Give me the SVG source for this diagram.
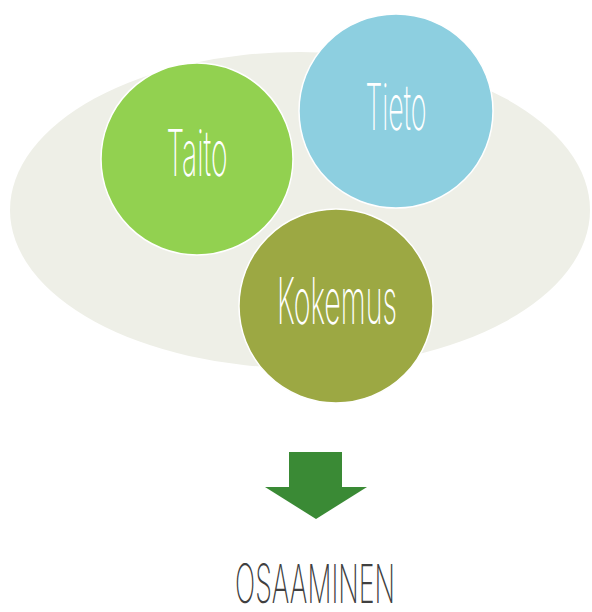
<svg xmlns="http://www.w3.org/2000/svg" width="592" height="612" viewBox="0 0 592 612">
<style>
.circ{stroke:#ffffff;stroke-width:1.5}
.lbl{font-family:Inter,"Open Sans","Liberation Sans",sans-serif;font-weight:200;font-size:64px;fill:#ffffff;text-anchor:middle}
.out{font-family:Inter,"Open Sans","Liberation Sans",sans-serif;font-weight:200;font-size:54px;fill:#404040;text-anchor:middle}
</style>
<rect width="592" height="612" fill="#ffffff"/>
<g id="background">
<ellipse cx="300" cy="210" rx="290" ry="158" fill="#EEEFE7"/>
</g>
<g id="node-taito">
<circle class="circ" cx="197" cy="159" r="96" fill="#92D150"/>
<text class="lbl" x="197" y="176" textLength="61" lengthAdjust="spacingAndGlyphs">Taito</text>
</g>
<g id="node-tieto">
<circle class="circ" cx="396" cy="111" r="97" fill="#8DCFE0"/>
<text class="lbl" x="396" y="130" textLength="61" lengthAdjust="spacingAndGlyphs">Tieto</text>
</g>
<g id="node-kokemus">
<circle class="circ" cx="336" cy="306" r="97" fill="#9CA843"/>
<text class="lbl" x="337" y="324" textLength="120" lengthAdjust="spacingAndGlyphs">Kokemus</text>
</g>
<g id="connectors">
<polygon points="289,452 342,452 342,487 367,487 316,519 265,487 289,487" fill="#3A8A35"/>
</g>
<g id="node-osaaminen">
<text class="out" x="315" y="603" textLength="160" lengthAdjust="spacingAndGlyphs">OSAAMINEN</text>
</g>
</svg>
